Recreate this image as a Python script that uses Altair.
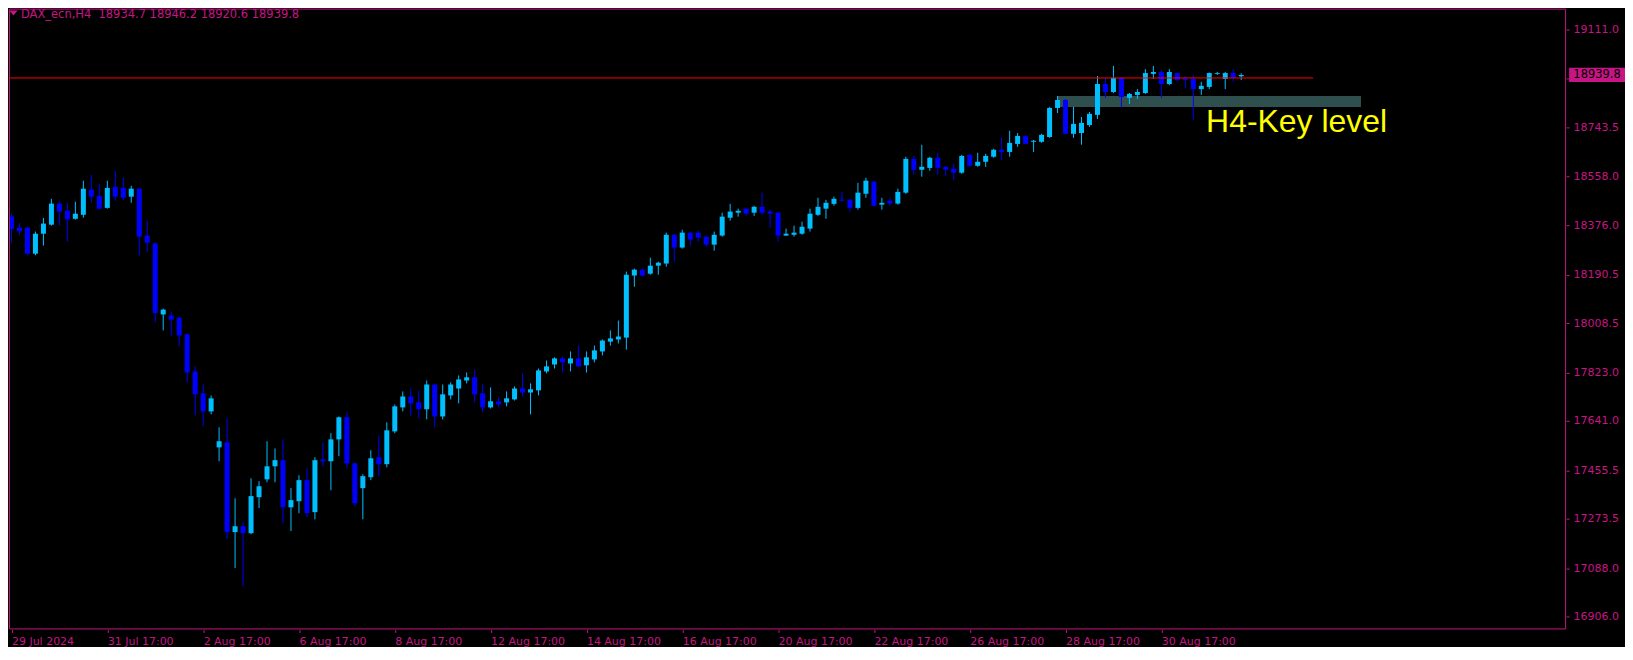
import altair as alt
import pandas as pd
import numpy as np

# ---- OHLC data (DAX_ecn, H4) ----
opens = [18409, 18367, 18367, 18269, 18344, 18378, 18457, 18430, 18400, 18415,
         18509, 18486, 18441, 18520, 18516, 18483, 18513, 18337, 18307, 18041,
         18037, 18029, 17966, 17827, 17745, 17677, 17542, 17561, 17224, 17246,
         17220, 17355, 17422, 17471, 17494, 17317, 17340, 17419, 17299, 17497,
         17490, 17572, 17655, 17482, 17389, 17430, 17505, 17479, 17602, 17692,
         17733, 17711, 17685, 17778, 17658, 17737, 17763, 17793, 17805, 17745,
         17692, 17715, 17711, 17722, 17763, 17748, 17756, 17827, 17853, 17876,
         17857, 17876, 17850, 17872, 17902, 17939, 17947, 17954, 18187, 18209,
         18194, 18224, 18232, 18340, 18292, 18348, 18348, 18333, 18303, 18337,
         18404, 18423, 18438, 18423, 18445, 18427, 18423, 18337, 18340, 18344,
         18363, 18415, 18438, 18456, 18472, 18472, 18441, 18494, 18539, 18453,
         18468, 18457, 18498, 18625, 18584, 18591, 18629, 18595, 18588, 18573,
         18640, 18599, 18614, 18633, 18659, 18651, 18681, 18711, 18689, 18689,
         18707, 18816, 18846, 18719, 18722, 18752, 18790, 18906, 18876, 18929,
         18854, 18865, 18872, 18944, 18951, 18906, 18947, 18925, 18925, 18887,
         18895, 18944, 18925, 18947, 18934.7]
highs = [18419, 18384, 18370, 18352, 18403, 18475, 18464, 18460, 18464, 18543,
         18565, 18531, 18543, 18580, 18555, 18524, 18516, 18393, 18312, 18063,
         18052, 18033, 17969, 17846, 17778, 17737, 17617, 17651, 17351, 17261,
         17426, 17415, 17565, 17538, 17572, 17389, 17437, 17464, 17505, 17561,
         17595, 17658, 17673, 17486, 17441, 17531, 17587, 17636, 17703, 17752,
         17763, 17756, 17793, 17780, 17778, 17786, 17812, 17823, 17835, 17778,
         17767, 17730, 17752, 17771, 17820, 17782, 17838, 17868, 17880, 17883,
         17902, 17924, 17902, 17924, 17947, 17981, 18018, 18202, 18213, 18213,
         18254, 18239, 18348, 18342, 18359, 18350, 18355, 18337, 18352, 18423,
         18456, 18438, 18442, 18449, 18498, 18434, 18425, 18363, 18374, 18389,
         18438, 18479, 18471, 18483, 18501, 18473, 18535, 18554, 18543, 18479,
         18479, 18513, 18633, 18636, 18678, 18633, 18648, 18599, 18606, 18640,
         18644, 18648, 18644, 18663, 18704, 18730, 18722, 18715, 18696, 18719,
         18820, 18861, 18850, 18820, 18782, 18801, 18936, 18929, 18974, 18932,
         18872, 18887, 18962, 18974, 18959, 18962, 18949, 18936, 18940, 18914,
         18949, 18951, 18951, 18962, 18946.2]
lows = [18310, 18340, 18263, 18263, 18299, 18374, 18374, 18314, 18397, 18404,
        18460, 18434, 18438, 18468, 18471, 18460, 18263, 18274, 18011, 17981,
        17962, 17921, 17786, 17662, 17621, 17666, 17490, 17198, 17089, 17021,
        17216, 17314, 17411, 17411, 17257, 17228, 17295, 17280, 17272, 17471,
        17381, 17509, 17464, 17321, 17272, 17419, 17434, 17467, 17595, 17677,
        17658, 17651, 17647, 17617, 17647, 17722, 17707, 17782, 17711, 17673,
        17688, 17692, 17696, 17718, 17733, 17666, 17737, 17820, 17838, 17823,
        17827, 17845, 17823, 17861, 17887, 17924, 17932, 17909, 18145, 18183,
        18190, 18190, 18220, 18239, 18288, 18299, 18314, 18295, 18280, 18333,
        18393, 18408, 18411, 18411, 18415, 18367, 18314, 18335, 18333, 18340,
        18352, 18411, 18400, 18449, 18464, 18427, 18434, 18479, 18445, 18434,
        18449, 18453, 18494, 18565, 18558, 18580, 18565, 18561, 18546, 18569,
        18595, 18595, 18595, 18629, 18621, 18633, 18670, 18679, 18651, 18685,
        18704, 18797, 18717, 18704, 18678, 18745, 18775, 18854, 18872, 18820,
        18831, 18850, 18869, 18925, 18854, 18902, 18914, 18891, 18771, 18865,
        18887, 18940, 18887, 18914, 18920.6]
closes = [18362, 18353, 18269, 18344, 18382, 18457, 18427, 18398, 18419, 18513,
          18483, 18438, 18516, 18483, 18479, 18513, 18333, 18310, 18046, 18059,
          18022, 17962, 17823, 17741, 17677, 17726, 17565, 17224, 17246, 17220,
          17359, 17396, 17471, 17494, 17317, 17344, 17419, 17295, 17494, 17490,
          17572, 17655, 17482, 17332, 17434, 17501, 17479, 17606, 17696, 17733,
          17707, 17685, 17778, 17658, 17741, 17778, 17797, 17805, 17741, 17692,
          17715, 17703, 17726, 17763, 17748, 17760, 17831, 17846, 17876, 17861,
          17876, 17846, 17880, 17906, 17943, 17951, 17958, 18190, 18209, 18187,
          18224, 18235, 18340, 18292, 18348, 18322, 18329, 18303, 18340, 18408,
          18427, 18430, 18419, 18445, 18423, 18419, 18337, 18344, 18348, 18370,
          18419, 18445, 18460, 18475, 18468, 18441, 18498, 18543, 18449, 18460,
          18457, 18501, 18625, 18584, 18595, 18629, 18591, 18584, 18573, 18636,
          18599, 18614, 18636, 18659, 18651, 18685, 18711, 18681, 18693, 18715,
          18816, 18846, 18719, 18756, 18760, 18794, 18906, 18876, 18929, 18857,
          18869, 18876, 18947, 18951, 18906, 18951, 18921, 18921, 18887, 18899,
          18947, 18947, 18947, 18929, 18939.8]

x_tick_bars = [0, 12, 24, 36, 48, 60, 72, 84, 96, 108, 120, 132, 144]
x_tick_labels = ["29 Jul 2024", "31 Jul 17:00", "2 Aug 17:00", "6 Aug 17:00",
                 "8 Aug 17:00", "12 Aug 17:00", "14 Aug 17:00", "16 Aug 17:00",
                 "20 Aug 17:00", "22 Aug 17:00", "26 Aug 17:00", "28 Aug 17:00",
                 "30 Aug 17:00"]
y_tick_values = [19111.0, 18925.5, 18743.5, 18558.0, 18376.0, 18190.5, 18008.5,
                 17823.0, 17641.0, 17455.5, 17273.5, 17088.0, 16906.0]

current_price = [18939.8]
line_level = [18928.6]
zone_bars = [131, 169]
zone_prices = [18820, 18861]
price_line_end = 163
key_label = ["H4-Key level"]
key_label_pos = [149.6, 18820]
header_text = ["DAX_ecn,H4 \u00a018934.7 18946.2 18920.6 18939.8"]

MAGENTA = "#C71585"
BULL = "#00BFFF"
BEAR = "#0000FF"
FONT = "DejaVu Sans"

W, H = 1560, 622
X0 = -0.3125
n = len(opens)
df = pd.DataFrame({"i": np.arange(n), "open": opens, "high": highs,
                   "low": lows, "close": closes})
df["dir"] = np.where(df["close"] >= df["open"], "up", "down")

x_scale = alt.Scale(domain=[X0, X0 + W / 8], nice=False, zero=False, padding=0)
y_scale = alt.Scale(domain=[16858.6, 19189.0], nice=False, zero=False, padding=0)

label_expr = "[" + ",".join("'" + s + "'" for s in x_tick_labels) + "][round(datum.value/12)]"
x_axis = alt.Axis(values=x_tick_bars, labelExpr=label_expr, title=None, domain=False,
                  grid=False, tickSize=3, tickColor=MAGENTA, labelColor=MAGENTA,
                  labelFont=FONT, labelFontSize=11, labelAlign="left",
                  labelBaseline="top", labelPadding=3, labelFlush=False,
                  labelOverlap=False)
y_axis = alt.Axis(orient="right", values=y_tick_values, format=".1f", title=None,
                  domain=False, grid=False, tickSize=3, tickColor=MAGENTA,
                  labelColor=MAGENTA, labelFont=FONT, labelFontSize=11,
                  labelPadding=4, labelOverlap=False, labelFlush=False)

color = alt.Color("dir:N", scale=alt.Scale(domain=["up", "down"], range=[BULL, BEAR]),
                  legend=None)

zone_df = pd.DataFrame({"x0": [zone_bars[0]], "x1": [zone_bars[1]],
                        "y0": [zone_prices[0]], "y1": [zone_prices[1]]})
zone = alt.Chart(zone_df).mark_rect(color="#2F4F4F").encode(
    x=alt.X("x0:Q", scale=x_scale, axis=x_axis), x2="x1:Q",
    y=alt.Y("y0:Q", scale=y_scale, axis=y_axis), y2="y1:Q")

base = alt.Chart(df)
wicks = base.mark_rule(strokeWidth=1).encode(
    x=alt.X("i:Q", scale=x_scale, axis=x_axis),
    y=alt.Y("low:Q", scale=y_scale, axis=y_axis), y2="high:Q", color=color)
bodies = base.mark_bar(size=5).encode(
    x=alt.X("i:Q", scale=x_scale, axis=x_axis),
    y=alt.Y("open:Q", scale=y_scale, axis=y_axis), y2="close:Q", color=color)

line_df = pd.DataFrame({"x0": [X0], "x1": [price_line_end], "p": line_level})
price_line = alt.Chart(line_df).mark_rule(color="#FF0000", strokeWidth=1).encode(
    x=alt.X("x0:Q", scale=x_scale, axis=x_axis), x2="x1:Q",
    y=alt.Y("p:Q", scale=y_scale, axis=y_axis))

key_df = pd.DataFrame({"x": [key_label_pos[0]], "y": [key_label_pos[1]], "t": key_label})
key_text = alt.Chart(key_df).mark_text(
    align="left", baseline="top", color="#FFFF00", font="Liberation Sans",
    fontSize=32).encode(
    x=alt.X("x:Q", scale=x_scale, axis=x_axis),
    y=alt.Y("y:Q", scale=y_scale, axis=y_axis), text="t:N")

price_df = pd.DataFrame({"p": current_price,
                         "t": ["%.1f" % v for v in current_price]})
price_box = alt.Chart(price_df).mark_point(
    shape="M-1,-0.255 L1,-0.255 L1,0.255 L-1,0.255 Z", filled=True, size=3136,
    color=MAGENTA, opacity=1, strokeWidth=0).encode(
    x=alt.value(1591), y=alt.Y("p:Q", scale=y_scale, axis=y_axis))
price_txt = alt.Chart(price_df).mark_text(
    color="#000000", font=FONT, fontSize=11.5, align="center", baseline="middle").encode(
    x=alt.value(1591), y=alt.Y("p:Q", scale=y_scale, axis=y_axis), text="t:N")

head_df = pd.DataFrame({"t": header_text})
head_tri = alt.Chart(head_df).mark_point(
    shape="M-1,-0.6 L1,-0.6 L0,0.6 Z", filled=True, size=69, color=MAGENTA,
    opacity=1, strokeWidth=0).encode(x=alt.value(4.5), y=alt.value(4.5))
head_txt = alt.Chart(head_df).mark_text(
    align="left", baseline="top", color=MAGENTA, font=FONT, fontSize=11.5).encode(
    x=alt.value(12), y=alt.value(0.5), text="t:N")

# plot frame drawn on half pixels so that nothing reaches negative coordinates
frame = alt.Chart(head_df).mark_rect(
    fillOpacity=0, stroke=MAGENTA, strokeWidth=1).encode(
    x=alt.value(0.5), x2=alt.value(W - 0.5), y=alt.value(0.5), y2=alt.value(H - 0.5))

chart = alt.layer(zone, wicks, bodies, price_line, key_text, price_box, price_txt,
                  head_tri, head_txt, frame).properties(
    width=W, height=H,
    padding={"left": 0, "top": 0, "right": 0, "bottom": 0},
    background="#000000",
).configure_view(strokeWidth=0)

chart.save("out.html", embed_options={"renderer": "svg", "actions": False})
